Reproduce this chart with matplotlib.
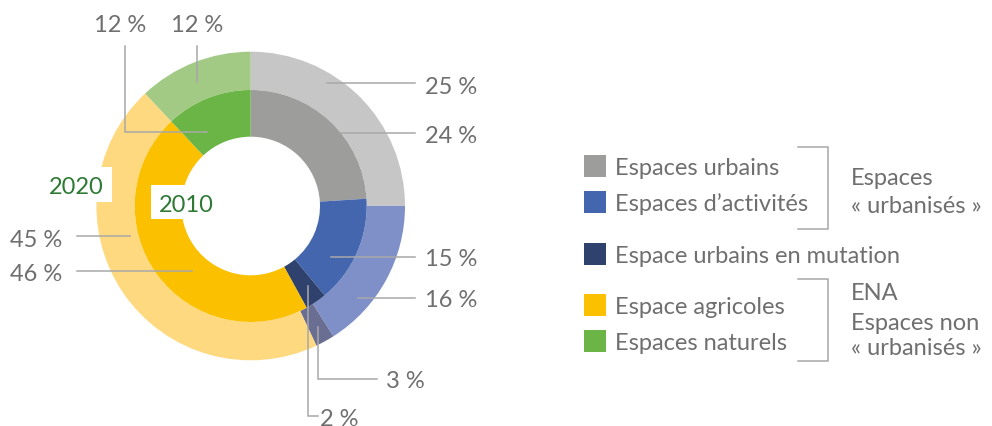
import matplotlib
matplotlib.use('Agg')
import matplotlib.pyplot as plt
from matplotlib.patches import Rectangle

# data
categories = ['Espaces urbains', 'Espaces d\u2019activités', 'Espace urbains en mutation',
              'Espace agricoles', 'Espaces naturels']
values_2010 = [24, 15, 3, 46, 12]
values_2020 = [25, 16, 2, 45, 12]
colors_2010 = ['#9d9d9c', '#4466ae', '#2f426e', '#fbc000', '#6ab546']
colors_2020 = ['#c6c6c6', '#7f8fc8', '#6a6e93', '#ffd97f', '#a3ca85']
groups = [('Espaces', '« urbanisés »'), ('ENA', 'Espaces non', '« urbanisés »')]

W, H = 992, 426
TXT = '#6f6f6f'
LINE = '#a8a8a8'
GREEN = '#2e7a35'
plt.rcParams['font.family'] = ['Lato', 'DejaVu Sans']


def py(y):
    # image row (from top) -> data y
    return H - y


fig = plt.figure(figsize=(W / 100, H / 100), dpi=100)
ax = fig.add_axes([0, 0, 1, 1])

cx, cy = 250.7, py(206)
ax.pie(values_2020, radius=154.3, center=(cx, cy), startangle=90, counterclock=False,
       colors=colors_2020, wedgeprops=dict(width=38.3, linewidth=0))
ax.pie(values_2010, radius=116, center=(cx, cy), startangle=90, counterclock=False,
       colors=colors_2010, wedgeprops=dict(width=46.7, linewidth=0))
ax.set_xlim(0, W)
ax.set_ylim(0, H)
ax.set_aspect('auto')
ax.axis('off')

# leader lines + percent labels (layout in image pixels)
labels = [
    (values_2020[0], [(327, 83), (415, 83)], (425, 94), 'left'),
    (values_2010[0], [(340, 133), (415, 133)], (425, 143.3), 'left'),
    (values_2010[1], [(331, 257), (415, 257)], (425, 265.7), 'left'),
    (values_2020[1], [(358, 298), (415, 298)], (425, 307.3), 'left'),
    (values_2010[2], [(318, 327), (318, 379), (377, 379)], (386, 388.3), 'left'),
    (values_2020[2], [(308, 286), (308, 416), (318, 416)], (320, 425.5), 'left'),
    (values_2020[3], [(130, 236), (77, 236)], (62, 246.7), 'right'),
    (values_2010[3], [(192, 271), (77, 271)], (62, 281), 'right'),
    (values_2010[4], [(207, 132), (125, 132), (125, 46)], (120, 32.3), 'center'),
    (values_2020[4], [(197, 82), (197, 46)], (196.7, 32.3), 'center'),
]
for v, pts, (tx, ty), ha in labels:
    ax.plot([p[0] for p in pts], [py(p[1]) for p in pts], color=LINE, lw=1.1,
            solid_joinstyle='miter', zorder=4)
    ax.text(tx, py(ty), f'{v} %', fontsize=17, color=TXT, ha=ha, va='baseline', zorder=5)

# year tags with white backgrounds
ax.add_patch(Rectangle((45, py(202)), 67, 35, color='white', lw=0, zorder=3))
ax.text(49.3, py(194.3), '2020', fontsize=17, color=GREEN, va='baseline', zorder=5)
ax.add_patch(Rectangle((151, py(219.3)), 70, 34.3, color='white', lw=0, zorder=3))
ax.text(159.3, py(212), '2010', fontsize=17, color=GREEN, va='baseline', zorder=5)

# legend
row_y = [165.7, 201.7, 254, 305, 341]
for name, col, y in zip(categories, colors_2010, row_y):
    ax.add_patch(Rectangle((584, py(y + 10.8)), 21.7, 21.7, color=col, lw=0))
    ax.text(615, py(y + 9.3), name, fontsize=17, color=TXT, va='baseline')

# brackets
for top, bot in [(147.3, 229), (279, 360.7)]:
    ax.plot([797.7, 827.7, 827.7, 797.7], [py(top), py(top), py(bot), py(bot)],
            color=LINE, lw=1.1, solid_joinstyle='miter')

for lines, bases in zip(groups, [(185, 213.3), (300, 330, 355)]):
    for s, b in zip(lines, bases):
        ax.text(850.7, py(b), s, fontsize=17, color=TXT, va='baseline')

fig.savefig('out.png', dpi=100)
